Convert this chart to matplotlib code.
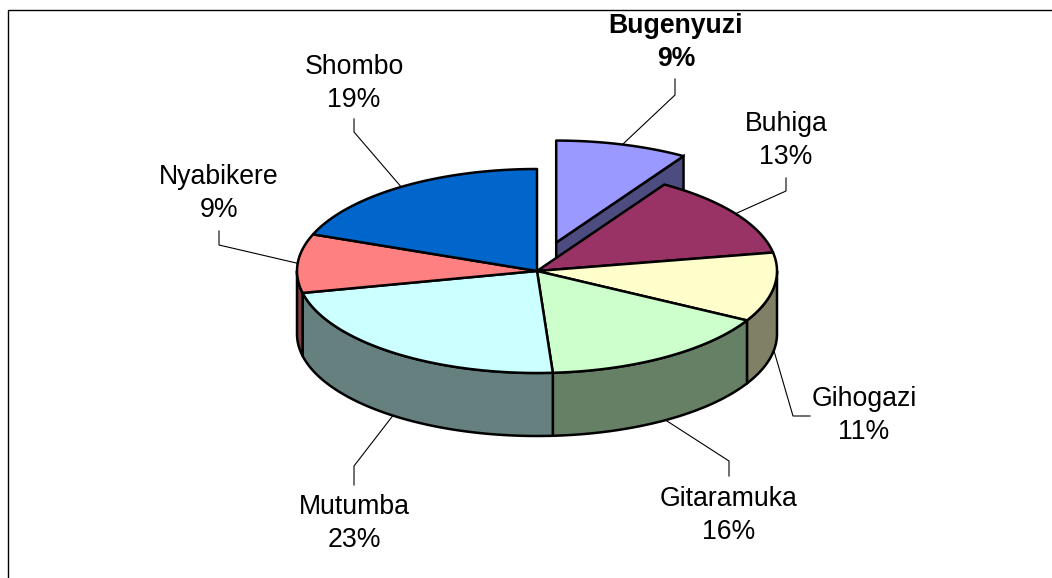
import numpy as np
import matplotlib
matplotlib.use("Agg")
import matplotlib.pyplot as plt
from matplotlib.patches import Polygon

# Data
categories = ["Bugenyuzi", "Buhiga", "Gihogazi", "Gitaramuka", "Mutumba", "Nyabikere", "Shombo"]
values = [8.9, 13.2, 10.95, 15.9, 22.6, 9.3, 19.15]
top_colors = ["#9999FF", "#993366", "#FFFFCC", "#CCFFCC", "#CCFFFF", "#FF8080", "#0066CC"]
side_colors = ["#4C4C80", "#4D1A33", "#808066", "#668066", "#668080", "#804040", "#003366"]

# Layout (pixels)
W, H = 1052, 578
CX, CY, RX, RY, DEPTH = 537.0, 271.0, 240.0, 102.0, 63.0
EXPLODE = 0.29
LW = 1.8
FS = 19.2
LINE_H = 33
# label centre x, first-line centre y, and elbow end of the leader
label_pos = [(676, 26), (786, 124), (864, 399), (729, 499), (354, 507), (219, 177), (354, 67)]
leader_start = [(675, 79), (786, 178), (810, 416), (729, 476), (354, 485), (219, 231), (354, 119)]
leader_elbow = [(675, 95), (786, 191), (793, 416), (729, 461), (354, 466), (219, 245), (354, 132)]
exploded = [True, False, False, False, False, False, False]

fig = plt.figure(figsize=(W / 100, H / 100), dpi=100)
ax = fig.add_axes([0, 0, 1, 1])
ax.set_xlim(0, W)
ax.set_ylim(H, 0)
ax.axis("off")


def pt(t, ox=0.0, oy=0.0):
    return CX + ox + RX * np.sin(t), CY + oy - RY * np.cos(t)


def arc(t0, t1, ox=0.0, oy=0.0, dz=0.0):
    ts = np.linspace(t0, t1, max(int(abs(t1 - t0) * 60), 2))
    x, y = pt(ts, ox, oy)
    return np.column_stack([x, y + dz])


def draw_side(t0, t1, color, ox, oy, z):
    top = arc(t0, t1, ox, oy)
    bot = arc(t0, t1, ox, oy, DEPTH)[::-1]
    ax.add_patch(Polygon(np.vstack([top, bot]), closed=True, fc=color, ec="black",
                         lw=LW, joinstyle="round", zorder=z))


def draw_top(t0, t1, color, ox, oy, z):
    pts = np.vstack([[CX + ox, CY + oy], arc(t0, t1, ox, oy)])
    ax.add_patch(Polygon(pts, closed=True, fc=color, ec="black", lw=LW,
                         joinstyle="round", zorder=z))


fr = np.array(values) / np.sum(values)
edges = np.concatenate([[0], np.cumsum(fr)]) * 2 * np.pi

# Exploded slices are drawn first, everything else sits over them
for i in range(len(values)):
    t0, t1 = edges[i], edges[i + 1]
    m = 0.5 * (t0 + t1)
    ox = RX * np.sin(m) * EXPLODE if exploded[i] else 0.0
    oy = -RY * np.cos(m) * EXPLODE if exploded[i] else 0.0
    z = 2 if exploded[i] else 4
    if exploded[i]:
        # flat cut face running from the apex to the outer end of the slice
        ex, ey = pt(t1, ox, oy)
        face = [(CX + ox, CY + oy), (ex, ey), (ex, ey + DEPTH), (CX + ox, CY + oy + DEPTH)]
        ax.add_patch(Polygon(face, closed=True, fc=side_colors[i], ec="black", lw=LW, zorder=z))
    else:
        a, b = max(t0, np.pi / 2), min(t1, 3 * np.pi / 2)
        if b > a:
            draw_side(a, b, side_colors[i], ox, oy, z)
    draw_top(t0, t1, top_colors[i], ox, oy, z + 1)

    # Label and leader
    ax_x, ax_y = pt(m, ox, oy)
    if np.cos(m) < 0:
        ax_y += DEPTH
    xs = [leader_start[i][0], leader_elbow[i][0], ax_x]
    ys = [leader_start[i][1], leader_elbow[i][1], ax_y]
    ax.plot(xs, ys, color="black", lw=0.8, zorder=1, solid_joinstyle="miter")
    lx, ly = label_pos[i]
    weight = "bold" if exploded[i] else "normal"
    ax.text(lx, ly, categories[i], ha="center", va="center", fontsize=FS,
            family="Liberation Sans", weight=weight, color="black", zorder=6)
    ax.text(lx, ly + LINE_H, f"{round(values[i])}%", ha="center", va="center", fontsize=FS,
            family="Liberation Sans", weight=weight, color="black", zorder=6)

# Chart frame: only the top and left edges fall inside the crop
ax.plot([8, 8, W], [H, 10, 10], color="black", lw=1.0, zorder=0, solid_joinstyle="miter")

fig.savefig("out.png", dpi=100, facecolor="white")
